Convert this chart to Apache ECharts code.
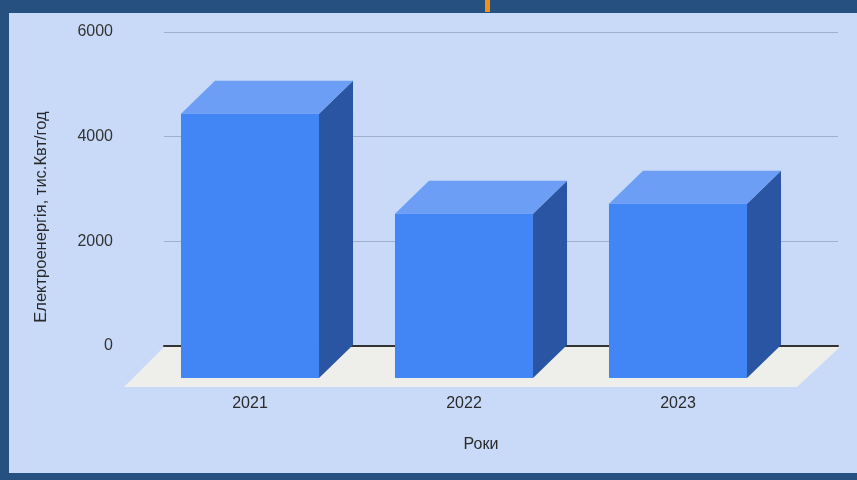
<!DOCTYPE html>
<html>
<head>
<meta charset="utf-8">
<script src="https://cdn.jsdelivr.net/npm/echarts@6/dist/echarts.min.js"></script>
<style>
html,body{margin:0;padding:0;background:#25507f;}
#c{width:857px;height:480px;}
</style>
</head>
<body>
<div id="c"></div>
<script>
var categories = ['2021', '2022', '2023'];
var values = [5050, 3140, 3330];
var yTicks = [0, 2000, 4000, 6000];
var yName = 'Електроенергія, тис.Квт/год';
var xName = 'Роки';

var DX = 34, DY = -33;
var FONT = '"Liberation Sans", Arial, sans-serif';

var chart = echarts.init(document.getElementById('c'));
chart.setOption({
  backgroundColor: '#25507f',
  animation: false,
  graphic: [
    { type: 'rect', z: -100, silent: true, shape: { x: 9, y: 13, width: 848, height: 460 }, style: { fill: '#c9daf8' } },
    { type: 'rect', z: 100, silent: true, shape: { x: 485, y: 0, width: 5, height: 12 }, style: { fill: '#f39019' } },
    { type: 'text', z: 100, x: 41, y: 217, rotation: Math.PI / 2,
      style: { text: yName, fill: '#2a2a2a', font: '16.5px ' + FONT, textAlign: 'center', textVerticalAlign: 'middle' } },
    { type: 'text', z: 100, x: 481, y: 445,
      style: { text: xName, fill: '#2a2a2a', font: '16px ' + FONT, textAlign: 'center', textVerticalAlign: 'middle' } }
  ],
  grid: [
    { left: 143, right: 72, top: 64, bottom: 102 },
    { left: 164, right: 19, top: 32, bottom: 134 }
  ],
  xAxis: [
    { type: 'category', gridIndex: 0, data: categories, boundaryGap: true,
      axisLine: { show: false }, axisTick: { show: false }, splitLine: { show: false },
      axisLabel: { margin: 18, color: '#2a2a2a', fontSize: 16, fontFamily: FONT } },
    { type: 'value', gridIndex: 1, min: 0, max: 1,
      axisLine: { show: true, lineStyle: { color: '#333', width: 2 } },
      axisTick: { show: false }, axisLabel: { show: false }, splitLine: { show: false } }
  ],
  yAxis: [
    { type: 'value', gridIndex: 0, min: 0, max: 6000, interval: 2000, show: false, splitLine: { show: false } },
    { type: 'value', gridIndex: 1, min: yTicks[0], max: yTicks[yTicks.length - 1], interval: 2000,
      axisLine: { show: false }, axisTick: { show: false },
      axisLabel: { margin: 51, color: '#333', fontSize: 16, fontFamily: FONT,
        formatter: function (v) { return String(v); } },
      splitLine: { show: true, lineStyle: { color: '#9fb0cc', width: 1 } } }
  ],
  series: [
    {
      type: 'custom', xAxisIndex: 1, yAxisIndex: 1, z: 1, silent: true,
      data: [[0, 0]],
      renderItem: function (params, api) {
        var cs = params.coordSys;
        var yb = cs.y + cs.height + 1;
        var x0 = cs.x, x1 = cs.x + cs.width + 2;
        return {
          type: 'polygon',
          shape: { points: [[x0, yb], [x1, yb], [x1 - 43, yb + 40], [x0 - 40, yb + 40]] },
          style: { fill: '#eeeeea' }
        };
      }
    },
    {
      type: 'custom', xAxisIndex: 0, yAxisIndex: 0, z: 3,
      data: values.map(function (v, i) { return [i, v]; }),
      renderItem: function (params, api) {
        var top = api.coord([api.value(0), api.value(1)]);
        var bot = api.coord([api.value(0), 0]);
        var w = api.size([1, 0])[0] * 0.645;
        var x0 = top[0] - w / 2, x1 = top[0] + w / 2;
        var yt = top[1], yb = bot[1];
        return {
          type: 'group',
          children: [
            { type: 'polygon', shape: { points: [[x1, yt], [x1 + DX, yt + DY], [x1 + DX, yb + DY], [x1, yb]] },
              style: { fill: '#2a55a2' } },
            { type: 'polygon', shape: { points: [[x0, yt], [x1, yt], [x1 + DX, yt + DY], [x0 + DX, yt + DY]] },
              style: { fill: '#6b9ef4' } },
            { type: 'rect', shape: { x: x0, y: yt, width: w, height: yb - yt },
              style: { fill: '#4285f4' } }
          ]
        };
      }
    }
  ]
});
</script>
</body>
</html>
